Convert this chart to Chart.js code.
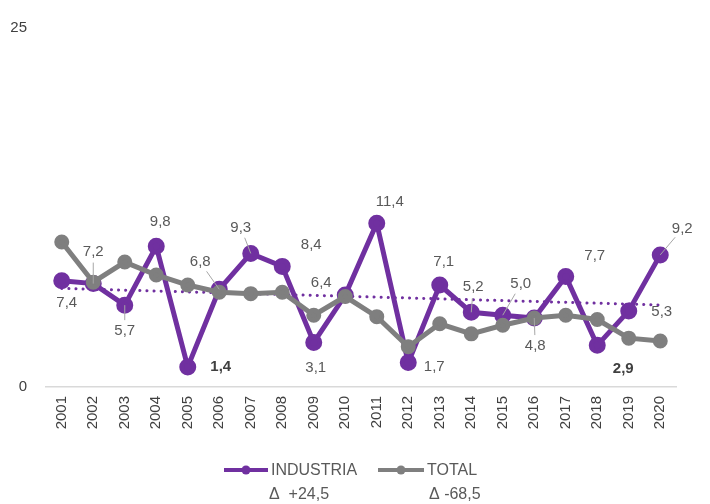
<!DOCTYPE html>
<html>
<head>
<meta charset="utf-8">
<script src="https://cdn.jsdelivr.net/npm/chart.js@4.4.1/dist/chart.umd.min.js"></script>
<style>
html, body { margin: 0; padding: 0; background: #fff; }
#wrap { width: 710px; height: 504px; }
</style>
</head>
<body>
<div id="wrap"><canvas id="myChart"></canvas></div>
<script>
var years = ['2001','2002','2003','2004','2005','2006','2007','2008','2009','2010',
             '2011','2012','2013','2014','2015','2016','2017','2018','2019','2020'];
var industria = [7.4, 7.2, 5.7, 9.8, 1.4, 6.8, 9.3, 8.4, 3.1, 6.4,
                 11.4, 1.7, 7.1, 5.2, 5.0, 4.8, 7.7, 2.9, 5.3, 9.2];
var total = [10.1, 7.3, 8.7, 7.8, 7.1, 6.6, 6.5, 6.6, 5.0, 6.3,
             4.9, 2.8, 4.4, 3.7, 4.3, 4.8, 5.0, 4.7, 3.4, 3.2];
var yTicks = [0, 25];
var deltaLabels = ['\u0394  +24,5', '\u0394 -68,5'];

// label placement (pixel offsets from the point), leader lines, bold labels
var labelDx = [5, 0, 0, 4, 33, -19, -10, 29, 2, -24, 13, 26, 4, 2, 18, 1, 29, 26, 33, 22];
var labelDy = [22, -32, 26, -24, 0, -27, -26, -22, 25, -12, -21, 4, -23, -25, -31, 28, -21, 24, 1, -26];
var leader = [0, 1, 1, 0, 0, 1, 1, 0, 0, 0, 0, 0, 0, 1, 1, 1, 0, 0, 0, 1];
var bold = [0, 0, 0, 0, 1, 0, 0, 0, 0, 0, 0, 0, 0, 0, 0, 0, 0, 1, 0, 0];

var purple = '#7030A0';
var grey = '#7F7F7F';
var txt = '#595959';
var fontFam = '"Liberation Sans", Arial, sans-serif';

// linear trend of the industria series (Excel trendline)
var n = industria.length, sx = 0, sy = 0, sxy = 0, sxx = 0;
for (var i = 0; i < n; i++) {
    sx += i; sy += industria[i]; sxy += i * industria[i]; sxx += i * i;
}
var slope = (n * sxy - sx * sy) / (n * sxx - sx * sx);
var icpt = (sy - slope * sx) / n;
var trend = [];
for (var i = 0; i < n; i++) trend.push(icpt + slope * i);

function fmt(v) { return v.toFixed(1).replace('.', ','); }

var labelPlugin = {
    id: 'labelPlugin',
    afterDatasetsDraw: function(chart) {
        var ctx = chart.ctx;
        var meta = chart.getDatasetMeta(1);
        ctx.save();
        ctx.textAlign = 'center';
        ctx.textBaseline = 'middle';
        for (var i = 0; i < meta.data.length; i++) {
            var p = meta.data[i];
            var lx = p.x + labelDx[i], ly = p.y + labelDy[i];
            if (leader[i]) {
                var dx = lx - p.x, dy = ly - p.y;
                var len = Math.sqrt(dx * dx + dy * dy);
                var cut = Math.min(len - 4, 11);
                ctx.strokeStyle = '#A6A6A6';
                ctx.lineWidth = 1;
                ctx.beginPath();
                ctx.moveTo(p.x, p.y);
                ctx.lineTo(lx - dx / len * cut, ly - dy / len * cut);
                ctx.stroke();
            }
            ctx.font = (bold[i] ? 'bold ' : '') + '15px ' + fontFam;
            ctx.fillStyle = bold[i] ? '#404040' : txt;
            ctx.fillText(fmt(industria[i]), lx, ly);
        }
        ctx.restore();
    },
    afterDraw: function(chart) {
        var ctx = chart.ctx;
        ctx.save();
        var items = [
            {color: purple, x1: 224, x2: 268, label: 'INDUSTRIA', d: deltaLabels[0], dx: 269},
            {color: grey, x1: 378, x2: 424, label: 'TOTAL', d: deltaLabels[1], dx: 429}
        ];
        items.forEach(function(it) {
            ctx.strokeStyle = it.color;
            ctx.lineWidth = 4;
            ctx.beginPath();
            ctx.moveTo(it.x1, 470);
            ctx.lineTo(it.x2, 470);
            ctx.stroke();
            ctx.fillStyle = it.color;
            ctx.beginPath();
            ctx.arc((it.x1 + it.x2) / 2, 470, 4.5, 0, Math.PI * 2);
            ctx.fill();
            ctx.font = '16px ' + fontFam;
            ctx.fillStyle = txt;
            ctx.textAlign = 'left';
            ctx.textBaseline = 'middle';
            ctx.fillText(it.label, it.x2 + 3, 471);
            ctx.fillText(it.d, it.dx, 495);
        });
        ctx.restore();
    }
};

new Chart(document.getElementById('myChart'), {
    type: 'line',
    data: {
        labels: years,
        datasets: [{
            label: 'TOTAL',
            data: total,
            borderColor: grey,
            backgroundColor: grey,
            borderWidth: 5,
            pointRadius: 5,
            pointHoverRadius: 5,
            tension: 0,
            order: 0
        }, {
            label: 'INDUSTRIA',
            data: industria,
            borderColor: purple,
            backgroundColor: purple,
            borderWidth: 5,
            pointRadius: 6,
            pointHoverRadius: 6,
            tension: 0,
            order: 1
        }, {
            label: 'Tendencia',
            data: trend,
            borderColor: purple,
            borderWidth: 3,
            borderDash: [0.1, 7],
            borderCapStyle: 'round',
            pointRadius: 0,
            tension: 0,
            order: 2
        }]
    },
    options: {
        responsive: true,
        maintainAspectRatio: false,
        animation: false,
        events: [],
        layout: { padding: { top: 27, right: 34, left: 0, bottom: 0 } },
        plugins: {
            legend: { display: false },
            tooltip: { enabled: false }
        },
        scales: {
            x: {
                offset: true,
                grid: { display: false, drawTicks: false },
                border: { color: '#D9D9D9', width: 1.5 },
                ticks: {
                    minRotation: 90,
                    maxRotation: 90,
                    padding: 9,
                    color: '#404040',
                    font: { size: 15, family: fontFam }
                },
                afterFit: function(scale) { scale.height = 117; }
            },
            y: {
                min: 0,
                max: 25,
                grid: { display: false, drawTicks: false },
                border: { display: false },
                afterBuildTicks: function(scale) {
                    scale.ticks = yTicks.map(function(v) { return {value: v}; });
                },
                ticks: {
                    padding: 19,
                    color: '#404040',
                    font: { size: 15, family: fontFam }
                },
                afterFit: function(scale) { scale.width = 46; }
            }
        }
    },
    plugins: [labelPlugin]
});
</script>
</body>
</html>
